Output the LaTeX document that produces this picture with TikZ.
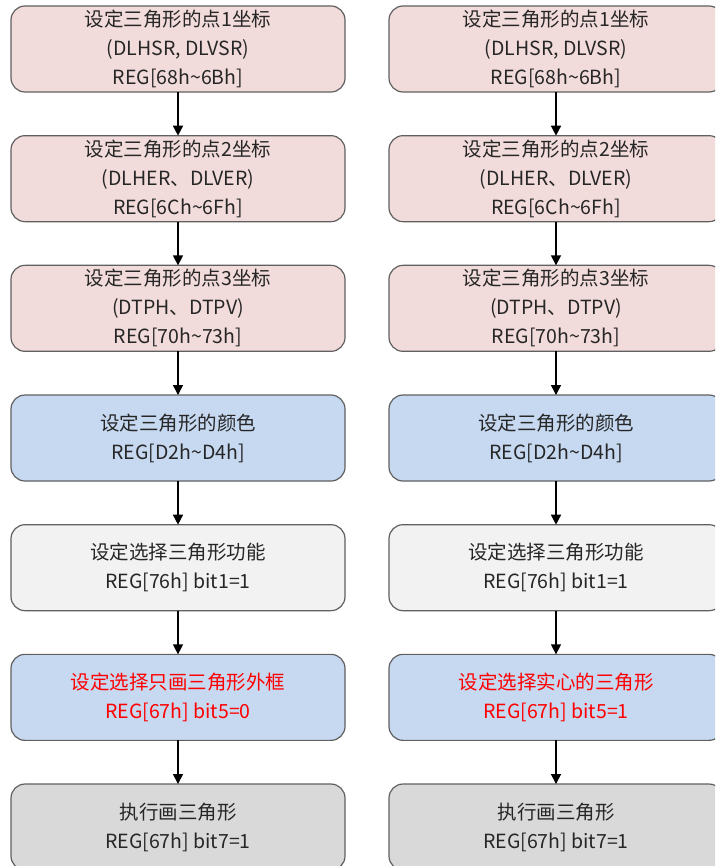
\documentclass[tikz,border=0pt]{standalone}
\usepackage{fontspec}
\setmainfont{Noto Sans CJK SC}
\usepackage{xcolor}
\usetikzlibrary{positioning,arrows.meta}
\definecolor{rosa}{RGB}{242,220,219}
\definecolor{hellblau}{RGB}{198,217,241}
\definecolor{hellgrau}{RGB}{242,242,242}
\definecolor{grau}{RGB}{217,217,217}
\definecolor{rand}{RGB}{96,96,96}
\definecolor{schrift}{RGB}{38,38,38}
\definecolor{rot}{RGB}{255,0,0}
\newcommand{\tilda}{\textasciitilde}

\tikzset{
  kasten/.style={draw=rand, line width=1.2pt, rounded corners=14pt,
    minimum width=334pt, minimum height=86pt, inner sep=0pt, outer sep=0pt,
    align=center, text=schrift, font=\fontsize{19.5}{29}\selectfont},
  pfeil/.style={-{Triangle[length=10pt,width=10pt]}, line width=1.5pt, black}
}

\begin{document}
\begin{tikzpicture}[x=1pt, y=-1pt, node distance=43.67pt]
    % Rahmen
    \useasboundingbox (0,0) rectangle (715,866);
    \clip (0,0) rectangle (715,866);
    \fill[white] (0,0) rectangle (715,866);

    % Linke Spalte
    \node[kasten, fill=rosa] (l1) at (178,49) {设定三角形的点1坐标\\(DLHSR, DLVSR)\\REG[68h\tilda 6Bh]};
    \node[kasten, fill=rosa, below=of l1] (l2) {设定三角形的点2坐标\\(DLHER、DLVER)\\REG[6Ch\tilda 6Fh]};
    \node[kasten, fill=rosa, below=of l2] (l3) {设定三角形的点3坐标\\(DTPH、DTPV)\\REG[70h\tilda 73h]};
    \node[kasten, fill=hellblau, below=of l3] (l4) {设定三角形的颜色\\REG[D2h\tilda D4h]};
    \node[kasten, fill=hellgrau, below=of l4] (l5) {设定选择三角形功能\\REG[76h] bit1=1};
    \node[kasten, fill=hellblau, text=rot, below=of l5] (l6) {设定选择只画三角形外框\\REG[67h] bit5=0};
    \node[kasten, fill=grau, below=of l6] (l7) {执行画三角形\\REG[67h] bit7=1};

    % Rechte Spalte
    \node[kasten, fill=rosa] (r1) at (556,49) {设定三角形的点1坐标\\(DLHSR, DLVSR)\\REG[68h\tilda 6Bh]};
    \node[kasten, fill=rosa, below=of r1] (r2) {设定三角形的点2坐标\\(DLHER、DLVER)\\REG[6Ch\tilda 6Fh]};
    \node[kasten, fill=rosa, below=of r2] (r3) {设定三角形的点3坐标\\(DTPH、DTPV)\\REG[70h\tilda 73h]};
    \node[kasten, fill=hellblau, below=of r3] (r4) {设定三角形的颜色\\REG[D2h\tilda D4h]};
    \node[kasten, fill=hellgrau, below=of r4] (r5) {设定选择三角形功能\\REG[76h] bit1=1};
    \node[kasten, fill=hellblau, text=rot, below=of r5] (r6) {设定选择实心的三角形\\REG[67h] bit5=1};
    \node[kasten, fill=grau, below=of r6] (r7) {执行画三角形\\REG[67h] bit7=1};

    % Pfeile
    \foreach \a/\b in {1/2, 2/3, 3/4, 4/5, 5/6, 6/7} {
        \draw[pfeil] (l\a) -- (l\b);
        \draw[pfeil] (r\a) -- (r\b);
    }
\end{tikzpicture}
\end{document}
